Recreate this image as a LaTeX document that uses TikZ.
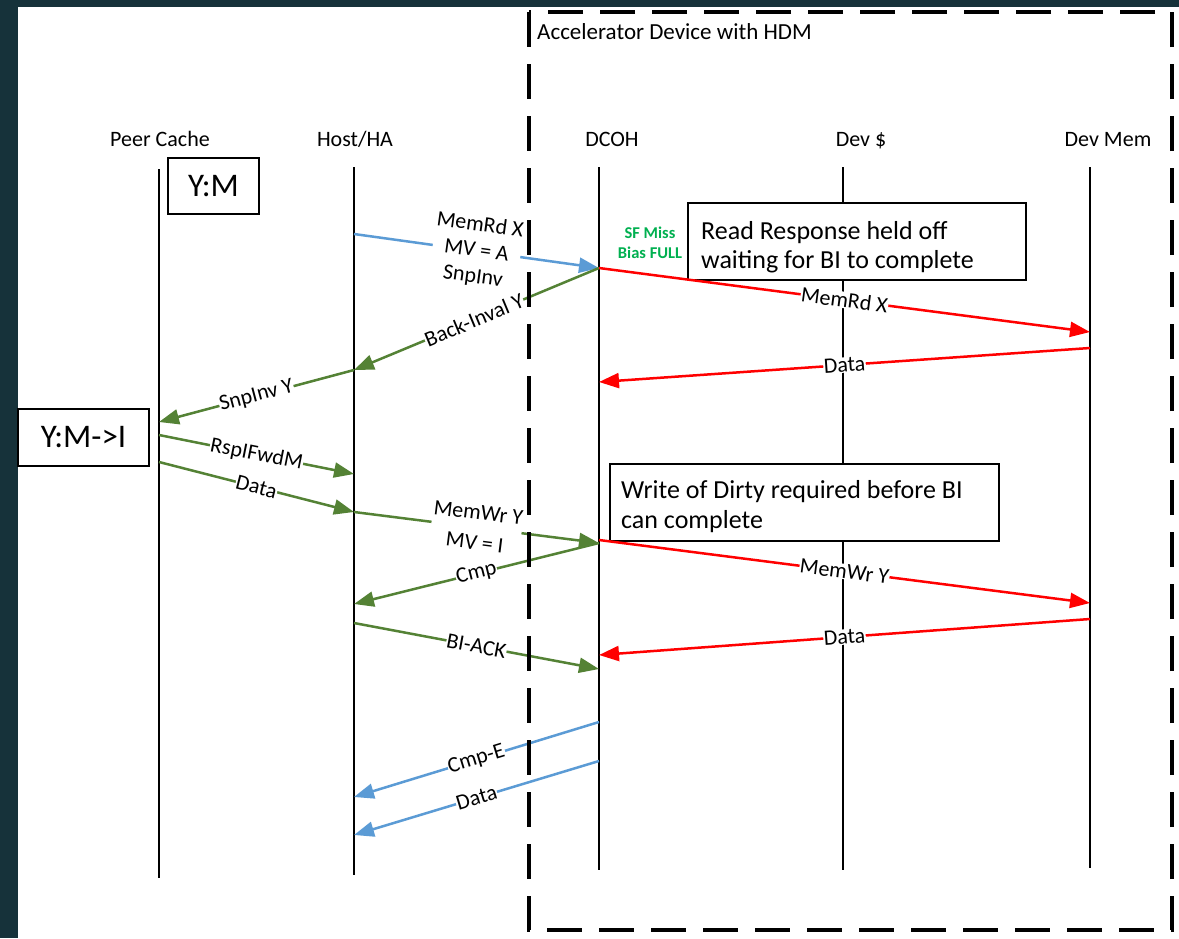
\documentclass[tikz,border=0pt]{standalone}
\usepackage{fontspec}
\setmainfont{Carlito}
\usetikzlibrary{arrows.meta}

\definecolor{slate}{HTML}{16323A}
\definecolor{msgblue}{HTML}{5B9BD5}
\definecolor{msggreen}{HTML}{548235}
\definecolor{msgred}{HTML}{FF0000}
\definecolor{sfgreen}{HTML}{00B050}

\tikzset{
  lifeline/.style={line width=2.5pt, black},
  msg/.style={line width=2.5pt, -{Triangle[length=20pt,width=15pt]}},
  msglabel/.style={fill=white, inner sep=0.5pt, sloped, text=black,
    font=\fontsize{22}{26}\selectfont, align=center},
  head/.style={font=\fontsize{22}{26}\selectfont, anchor=base},
  statebox/.style={draw, line width=2pt, fill=white,
    font=\fontsize{33}{36}\selectfont, inner sep=0pt},
  notebox/.style={draw, line width=2pt, fill=white, anchor=north west, inner sep=0pt},
  notetext/.style={font=\fontsize{26}{29}\selectfont, align=left, anchor=west, inner sep=0pt},
  devbox/.style={line width=3.5pt, dash pattern=on 35pt off 17pt},
}

\begin{document}
\begin{tikzpicture}[x=1pt,y=-1pt]
  \useasboundingbox (0,0) rectangle (1179,938);
  % page frame
  \fill[slate] (0,0) rectangle (1179,938);
  \fill[white] (18,7) rectangle (1179,938);

  % lifeline ends
  \coordinate (pcT) at (159,169);  \coordinate (pcB) at (159,878);
  \coordinate (haT) at (354,167);  \coordinate (haB) at (354,875);
  \coordinate (dcT) at (599,167);  \coordinate (dcB) at (599,870);
  \coordinate (dsT) at (843,167);  \coordinate (dsB) at (843,870);
  \coordinate (dmT) at (1090,167); \coordinate (dmB) at (1090,868);

  \draw[lifeline] (pcT) -- (pcB);
  \draw[lifeline] (haT) -- (haB);
  \draw[lifeline] (dcT) -- (dcB);
  \draw[lifeline] (dsT) -- (dsB);
  \draw[lifeline] (dmT) -- (dmB);

  % participant names
  \node[head] (hpc) at (160,146) {Peer Cache};
  \node[head] (hha) at (355,146) {Host/HA};
  \node[head] (hdc) at (612,146) {DCOH};
  \node[head] (hds) at (861,146) {Dev \$};
  \node[head] (hdm) at (1108,146) {Dev Mem};
  \node[font=\fontsize{23}{26}\selectfont, anchor=base west, inner sep=0pt]
    (acc) at (537,39) {Accelerator Device with HDM};

  % cache states
  \node[statebox, minimum width=91pt, minimum height=56pt] (ym) at (213.5,186) {Y:M};
  \node[statebox, minimum width=131pt, minimum height=57pt] (ymi) at (83.5,437.5) {Y:M->I};

  % notes
  \node[notebox, minimum width=338pt, minimum height=77pt] (rrbox) at (687,202) {};
  \node[notetext] (rrtext) at (701,247) {Read Response held off\\waiting for BI to complete};
  \node[notebox, minimum width=389pt, minimum height=77pt] (wdbox) at (609,463) {};
  \node[notetext, font=\fontsize{26}{30}\selectfont] (wdtext) at (621,507)
    {Write of Dirty required before BI\\can complete};

  % snoop filter state
  \node[font=\bfseries\fontsize{16.5}{20}\selectfont, text=sfgreen, align=center]
    (sf) at (650,243) {SF Miss\\Bias FULL};

  % message end points
  \coordinate (a1) at (354,234);  \coordinate (a2) at (599,268);
  \coordinate (b2) at (354,370);
  \coordinate (c2) at (159,422);
  \coordinate (d1) at (159,435);  \coordinate (d2) at (354,474);
  \coordinate (e1) at (159,462);  \coordinate (e2) at (354,512);
  \coordinate (f2) at (599,543);
  \coordinate (g2) at (354,604);
  \coordinate (h1) at (354,623);  \coordinate (h2) at (599,669);
  \coordinate (r1) at (1090,332);
  \coordinate (r2) at (1090,348); \coordinate (r3) at (599,382);
  \coordinate (s1) at (599,540);  \coordinate (s2) at (1090,603);
  \coordinate (t1) at (1090,619); \coordinate (t2) at (599,655);
  \coordinate (u1) at (599,722);  \coordinate (u2) at (354,797);
  \coordinate (v1) at (599,761);  \coordinate (v2) at (354,835);

  % host <-> device
  \draw[msg, msgblue] (a1) -- node[msglabel, font=\fontsize{22}{26}\selectfont]
    {MemRd X\\MV = A\\SnpInv} (a2);
  \draw[msg, msggreen] (a2) -- node[msglabel, pos=0.51] {Back-Inval Y} (b2);
  % host <-> peer cache
  \draw[msg, msggreen] (b2) -- node[msglabel] {SnpInv Y} (c2);
  \draw[msg, msggreen] (d1) -- node[msglabel] {RspIFwdM} (d2);
  \draw[msg, msggreen] (e1) -- node[msglabel] {Data} (e2);
  % dirty write-back and completion
  \draw[msg, msggreen] (e2) -- node[msglabel, font=\fontsize{22}{30}\selectfont]
    {MemWr Y\\MV = I} (f2);
  \draw[msg, msggreen] (f2) -- node[msglabel] {Cmp} (g2);
  \draw[msg, msggreen] (h1) -- node[msglabel] {BI-ACK} (h2);
  % device memory traffic
  \draw[msg, msgred] (a2) -- node[msglabel] {MemRd X} (r1);
  \draw[msg, msgred] (r2) -- node[msglabel] {Data} (r3);
  \draw[msg, msgred] (s1) -- node[msglabel] {MemWr Y} (s2);
  \draw[msg, msgred] (t1) -- node[msglabel] {Data} (t2);
  % read completion to host
  \draw[msg, msgblue] (u1) -- node[msglabel] {Cmp-E} (u2);
  \draw[msg, msgblue] (v1) -- node[msglabel] {Data} (v2);

  % device boundary
  \coordinate (dvNW) at (529,12);
  \coordinate (dvSE) at (1172,930);
  \draw[devbox] (dvNW) rectangle (dvSE);
\end{tikzpicture}
\end{document}
